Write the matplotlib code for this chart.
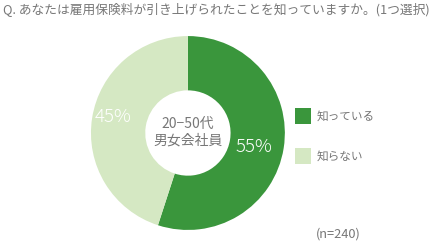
import matplotlib
matplotlib.use("Agg")
import matplotlib.pyplot as plt
import numpy as np
from matplotlib.patches import Rectangle

plt.rcParams['font.family'] = ['Noto Sans CJK JP', 'DejaVu Sans']

title = "Q. あなたは雇用保険料が引き上げられたことを知っていますか。(1つ選択)"
labels = ["知っている", "知らない"]
values = [55, 45]
colors = ["#3a963c", "#d5e8c3"]
center_text = "20−50代\n男女会社員"
note = "(n=240)"

fig = plt.figure(figsize=(4.37, 2.47), dpi=100)
fig.patch.set_facecolor("white")
ax = fig.add_axes([0.208, 0.069, 0.444, 0.785])
wedges, texts, autotexts = ax.pie(
    values, colors=colors, startangle=90, counterclock=False,
    autopct=lambda p: f"{p:.0f}%", pctdistance=0.73,
    wedgeprops=dict(width=0.56, edgecolor="none"),
    textprops=dict(color="white", fontsize=13.5, fontweight="light"))
label_r = [0.70, 0.79]
for w, t, r in zip(wedges, autotexts, label_r):
    ang = np.deg2rad((w.theta1 + w.theta2) / 2 - 3)
    t.set_position((r * np.cos(ang), r * np.sin(ang)))
ax.set_xlim(-1, 1)
ax.set_ylim(-1, 1)
ax.set_aspect("equal")
ax.text(0, 0.01, center_text, ha="center", va="center", fontsize=10,
        color="#777777", linespacing=1.25)

fig.text(0.008, 0.958, title, ha="left", va="center", fontsize=9.2, color="#777777")

ys = [116, 156]
for lab, col, y in zip(labels, colors, ys):
    fig.patches.append(Rectangle((295/437, 1 - (y + 8)/247), 16/437, 16/247,
                                 transform=fig.transFigure, facecolor=col, edgecolor="none"))
    fig.text(317/437, 1 - y/247, lab, ha="left", va="center", fontsize=8.4, color="#777777")

fig.text(316/437, 1 - 234/247, note, ha="left", va="center", fontsize=9.2, color="#777777")

fig.savefig("out.png", dpi=100)
